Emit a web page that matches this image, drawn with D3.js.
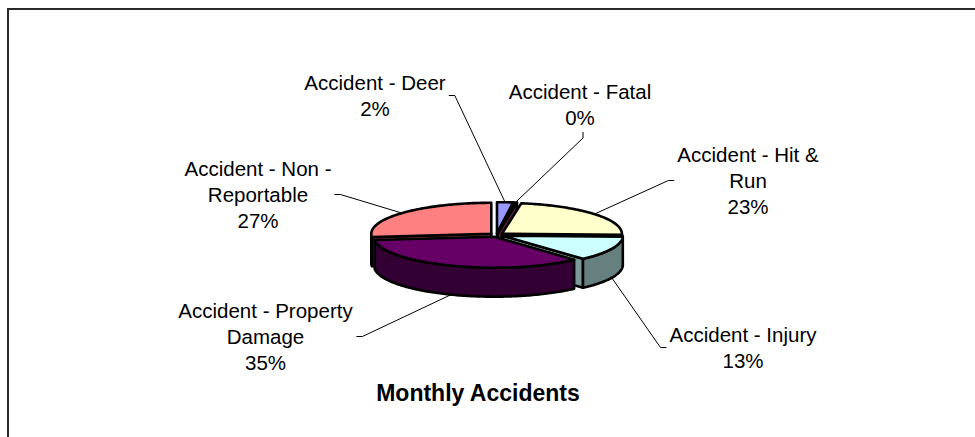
<!DOCTYPE html>
<html><head><meta charset="utf-8">
<script src="https://cdn.jsdelivr.net/npm/d3@7"></script>
<style>html,body{margin:0;padding:0;background:#fff;overflow:hidden;} svg{display:block;}</style>
</head><body>
<svg id="chart" width="975" height="437"></svg>
<script>
// ---- data ----
const categories = ["Accident - Deer", "Accident - Fatal", "Accident - Hit & Run", "Accident - Injury", "Accident - Property Damage", "Accident - Non - Reportable"];
const values = [5, 1, 53, 30, 81, 62];
const topColors = ["#9999FF", "#993366", "#FFFFCC", "#CCFFFF", "#660066", "#FF8080"];
const chartTitle = "Monthly Accidents";

// ---- layout ----
const W = 975, H = 437;
const pieCx = 496.5, pieCy = 235, pieRx = 120, pieRy = 31, pieDepth = 29, explodeDist = 7;
const fontFamily = "'Liberation Sans', Arial, Helvetica, sans-serif";
const labelFont = 20.5, lineH = 26, wrapWidth = 180;
const labelLayout = [
  {x: 375, y: 90, side: "right"},
  {x: 580, y: 99, side: "bottom"},
  {x: 748, y: 162, side: "left"},
  {x: 743, y: 342, side: "left"},
  {x: 265.5, y: 318, side: "right"},
  {x: 258, y: 176, side: "right"}
];
const titleLayout = {x: 478, y: 401, size: 23};

const svg = d3.select("#chart");
svg.append("rect").attr("x", 8).attr("y", 9).attr("width", W + 40).attr("height", H + 40)
  .attr("fill", "none").attr("stroke", "#2a2a2a").attr("stroke-width", 2);

const total = d3.sum(values);
const arcs = d3.pie().sort(null).value(d => d)(values);
const xs = d3.scaleLinear().domain([-1, 1]).range([pieCx - pieRx, pieCx + pieRx]);
const ys = d3.scaleLinear().domain([-1, 1]).range([pieCy - pieRy, pieCy + pieRy]);
const en = explodeDist / pieRx;

const slices = arcs.map((p, i) => {
  const mid = (p.startAngle + p.endAngle) / 2;
  const ox = xs(en * Math.sin(mid)) - xs(0);
  const oy = ys(-en * Math.cos(mid)) - ys(0);
  const P = (a, dz = 0) => [xs(Math.sin(a)) + ox, ys(-Math.cos(a)) + oy + dz];
  const C = (dz = 0) => [xs(0) + ox, ys(0) + oy + dz];
  return {i, p, mid, P, C};
});
function arcPts(s, a0, a1, dz) {
  const n = Math.max(2, Math.ceil((a1 - a0) / (Math.PI / 180)));
  return d3.range(n + 1).map(k => s.P(a0 + (a1 - a0) * k / n, dz));
}
const shade = (c, f) => { const r = d3.rgb(c); return d3.rgb(r.r * f, r.g * f, r.b * f).formatHex(); };
const meanY = pts => d3.mean(pts, d => d[1]);

const faces = [], sides = [], tops = [];
slices.forEach(s => {
  const a0 = s.p.startAngle, a1 = s.p.endAngle;
  if (Math.sin(a0) < -1e-6) { const pts = [s.C(), s.P(a0), s.P(a0, pieDepth), s.C(pieDepth)]; faces.push({s, pts, key: meanY(pts)}); }
  if (Math.sin(a1) > 1e-6) { const pts = [s.C(), s.P(a1), s.P(a1, pieDepth), s.C(pieDepth)]; faces.push({s, pts, key: meanY(pts)}); }
  const v0 = Math.max(a0, Math.PI / 2), v1 = Math.min(a1, 3 * Math.PI / 2);
  if (v1 > v0) { const pts = arcPts(s, v0, v1, 0).concat(arcPts(s, v0, v1, pieDepth).reverse()); sides.push({s, pts, key: meanY(pts)}); }
  tops.push({s, pts: [s.C()].concat(arcPts(s, a0, a1, 0)), key: 0});
});
const lineGen = d3.line();
const g = svg.append("g").attr("stroke", "#000").attr("stroke-width", 2.6).attr("stroke-linejoin", "round");
function drawSet(set, f) {
  set.sort((a, b) => a.key - b.key);
  g.selectAll(null).data(set).enter().append("path")
    .attr("d", d => lineGen(d.pts) + "Z")
    .attr("fill", d => f === 1 ? topColors[d.s.i] : shade(topColors[d.s.i], f));
}
drawSet(faces, 0.6);
drawSet(sides, 0.5);
drawSet(tops, 1);

// ---- labels ----
const ctx = document.createElement("canvas").getContext("2d");
ctx.font = labelFont + "px " + fontFamily;
function wrap(text) {
  const words = text.split(" "); const lines = []; let cur = "";
  words.forEach(w => { const t = cur ? cur + " " + w : w; if (ctx.measureText(t).width > wrapWidth && cur) { lines.push(cur); cur = w; } else cur = t; });
  lines.push(cur); return lines;
}
const pctFmt = d3.format(".0%");
const lg = svg.append("g");
slices.forEach(s => {
  const L = labelLayout[s.i];
  const lines = wrap(categories[s.i]).concat([pctFmt(values[s.i] / total)]);
  const t = lg.append("text").attr("x", L.x).attr("y", L.y).attr("text-anchor", "middle")
    .attr("font-family", fontFamily).attr("font-size", labelFont).attr("fill", "#000");
  lines.forEach((ln, k) => t.append("tspan").attr("x", L.x).attr("y", L.y + k * lineH).text(ln));
  const bb = t.node().getBBox();
  const front = s.mid > Math.PI / 2 && s.mid < 3 * Math.PI / 2;
  const anchor = front ? s.P(s.mid, pieDepth) : s.P(s.mid);
  let p1, p2;
  const my = bb.y + bb.height / 2;
  if (L.side === "right") { p1 = [bb.x + bb.width + 3, my]; p2 = [p1[0] + 6, my]; }
  else if (L.side === "left") { p1 = [bb.x - 3, my]; p2 = [p1[0] - 6, my]; }
  else { p1 = [L.x + 3, bb.y + bb.height + 3]; p2 = [p1[0], p1[1] + 6]; }
  lg.append("path").attr("d", lineGen([p1, p2, anchor])).attr("fill", "none").attr("stroke", "#000").attr("stroke-width", 1);
});

svg.append("text").attr("x", titleLayout.x).attr("y", titleLayout.y).attr("text-anchor", "middle")
  .attr("font-family", fontFamily).attr("font-size", titleLayout.size).attr("font-weight", "bold").text(chartTitle);
</script>
</body></html>
